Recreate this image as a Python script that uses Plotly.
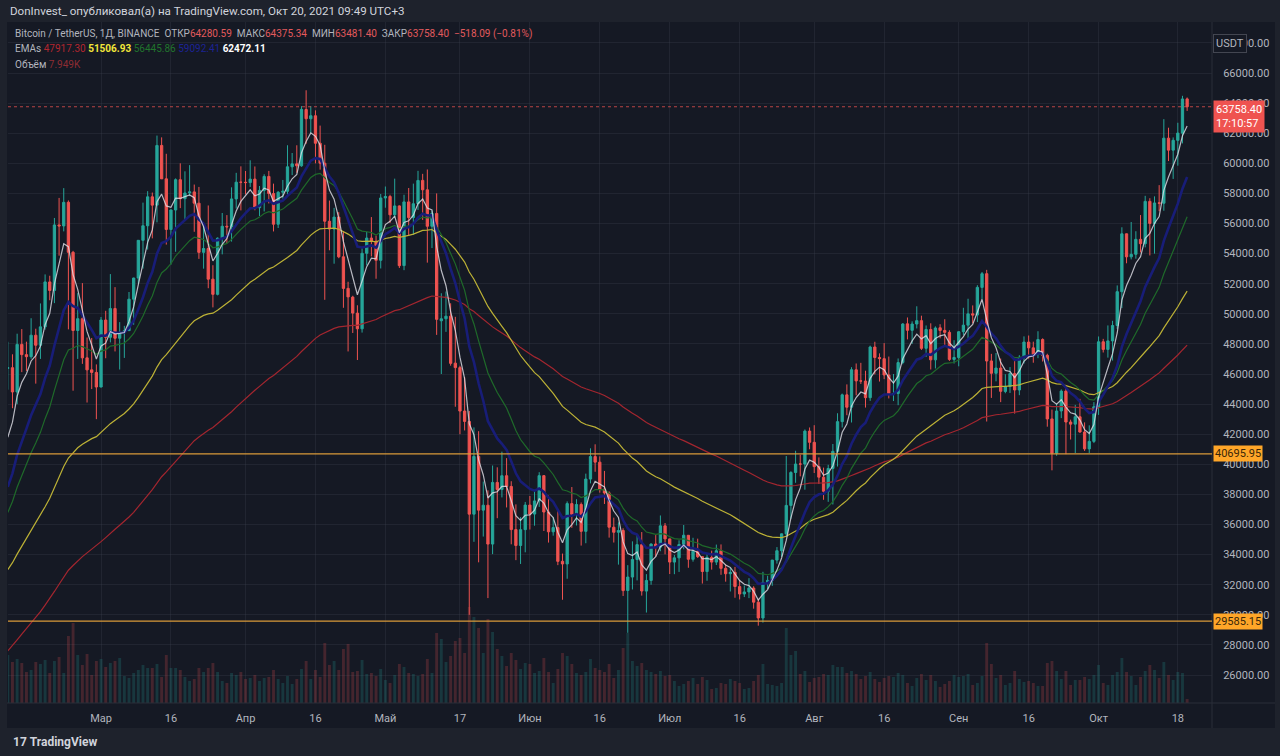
import plotly.graph_objects as go
import pandas as pd

# BTC/USDT daily, Binance, 9 Feb - 20 Oct 2021
dates = pd.date_range("2021-02-09", "2021-10-20", freq="D")

opens = [
    # Feb
    46374, 46420, 44807, 47969, 47287, 47153, 48577, 47911, 49133, 52119, 51552, 55906, 55841, 57412, 54087, 48891, 49676, 47073, 46276, 46104,
    # Mar
    45135, 49587, 48440, 50349, 48374, 48751, 48882, 50971, 52375, 54884, 55851, 57773, 57221, 61188, 58968, 55605, 56900, 58912, 57648, 58030,
    58102, 57351, 54083, 54340, 52303, 51293, 55025, 55817, 55777, 57635, 58746,
    # Apr
    58740, 58720, 58950, 57051, 58202, 59129, 57991, 55953, 58077, 58142, 59769, 59964, 59835, 63576, 62959, 63159, 61334, 60006, 56150, 55633,
    56425, 53787, 51690, 51110, 50047, 49004, 54021, 55034, 54824, 53555,
    # May
    57697, 57797, 56578, 57169, 53205, 57436, 56393, 57315, 58866, 58240, 55816, 56670, 49537, 49671, 49844, 46723, 46424, 43538, 42849, 36690,
    40526, 36955, 37281, 34700, 38796, 38324, 39241, 38529, 35661, 34606, 35659,
    # Jun
    37293, 36694, 37569, 39246, 36829, 35516, 35797, 33557, 33380, 37389, 36677, 37331, 35546, 39021, 40516, 40143, 38349, 38099, 35820, 35483,
    35600, 31614, 32509, 33676, 34663, 31577, 32283, 34702, 34495, 35911,
    # Jul
    35045, 33502, 33786, 34668, 35284, 33690, 34221, 33863, 32875, 33815, 33502, 34259, 33086, 32729, 32820, 31874, 31384, 31521, 31778, 30839,
    29790, 32145, 32287, 33635, 34262, 35381, 37270, 39456, 40020, 40016, 42206,
    # Aug
    41461, 39850, 39146, 38207, 39723, 40862, 42836, 44614, 43794, 46280, 45543, 45533, 44429, 47793, 47097, 47019, 45937, 44687, 44709, 46769,
    49334, 48903, 49322, 49546, 47707, 48960, 46942, 49070, 48895, 48767, 46970,
    # Sep
    47100, 48810, 49247, 50000, 49917, 51756, 52666, 46868, 46048, 46395, 44842, 45173, 46025, 44940, 47103, 48121, 47737, 47300, 48292, 47241,
    43016, 40734, 43546, 44866, 42810, 42670, 43160, 42147, 41025, 41524,
    # Oct
    43820, 48141, 47634, 48200, 49225, 51471, 55315, 53785, 53955, 54949, 54659, 57471, 56005, 57372, 57347, 61673, 60875, 61528, 62005, 64280.59,
]

highs = [
    48142, 47310, 48678, 48985, 48150, 49707, 49010, 50689, 52618, 52530, 56368, 57700, 58352, 57534, 54183, 51374, 52041, 48424, 48395, 46638,
    49790, 50200, 52640, 51773, 49448, 49200, 51450, 52402, 54895, 57387, 58150, 58058, 61844, 61724, 60633, 56938, 58999, 60000, 59468, 59880,
    58589, 58430, 55830, 57200, 53229, 55073, 56700, 56559, 58405, 59368, 59800,
    59490, 60200, 59791, 58492, 59272, 59495, 58650, 58153, 58894, 61200, 60685, 61199, 63800, 64854, 63800, 63520, 62506, 61230, 57526, 57040,
    56757, 55500, 52130, 51200, 50567, 54356, 55460, 56428, 55195, 57963,
    58458, 57911, 58981, 57200, 57911, 58360, 58650, 59500, 59300, 59592, 56862, 58000, 51367, 51483, 50700, 49800, 46545, 45800, 43546, 42451,
    42200, 38855, 38270, 39921, 39800, 40841, 40411, 38877, 37338, 36488, 37499,
    37895, 38225, 39476, 39290, 37925, 36480, 36900, 34068, 37534, 38491, 37680, 37463, 39380, 41064, 41330, 40527, 39560, 38200, 36457, 36137,
    35750, 33298, 34881, 35298, 35500, 32700, 34749, 35297, 36600, 36100,
    35057, 33977, 34951, 35967, 35293, 35118, 35059, 33909, 34100, 34262, 34666, 34678, 33340, 33114, 33185, 32249, 31949, 32435, 31899, 31063,
    32858, 32591, 33650, 34500, 35398, 40550, 39542, 40900, 40640, 42316, 42448,
    42599, 40459, 39780, 39969, 41350, 43392, 44700, 45310, 46454, 46700, 46743, 46218, 47886, 48144, 47372, 48053, 47160, 46000, 47033, 49382,
    49757, 49500, 50500, 49875, 49226, 49370, 49165, 49309, 49640, 48908, 48246,
    48843, 50400, 51000, 50558, 51900, 52780, 52920, 47340, 47399, 47033, 45987, 46460, 46880, 47250, 48500, 48557, 48150, 48843, 48372, 47347,
    43639, 44000, 44978, 45200, 42966, 43950, 44350, 42787, 42590, 44132,
    48495, 48336, 49228, 49536, 51886, 55750, 55332, 56100, 55489, 56561, 57839, 57680, 57804, 58550, 62933, 62366, 61720, 62695, 64486, 64375.34,
]

lows = [
    44961, 43727, 43994, 46125, 46202, 47014, 45360, 47003, 48947, 50901, 50710, 53863, 55477, 48967, 44892, 47004, 46674, 44106, 45000, 43000,
    45115, 47047, 48100, 47500, 46300, 47070, 48882, 49274, 52000, 53005, 54269, 55013, 56078, 59020, 54600, 53271, 54123, 57023, 56270, 57820,
    55450, 53650, 53000, 51700, 50427, 51225, 53950, 54691, 54800, 57000, 56873,
    57935, 58428, 56880, 56500, 56800, 57333, 55473, 55700, 57654, 57902, 59216, 59369, 59770, 61301, 62020, 60000, 59580, 50931, 54221, 53329,
    53695, 50400, 47500, 48726, 46930, 48753, 53222, 53813, 52330, 53013,
    57050, 56035, 56435, 53046, 52900, 55200, 55241, 56900, 56235, 53400, 54370, 48600, 46000, 48800, 46555, 43825, 42001, 42250, 30000, 34850,
    33488, 35200, 31111, 34031, 36420, 37800, 37134, 34685, 33632, 33379, 34153,
    35667, 35920, 37170, 35567, 34800, 35258, 33300, 31000, 32396, 35782, 35936, 34600, 34757, 38733, 39506, 38116, 37365, 35129, 34803, 33336,
    31251, 28805, 31683, 32286, 31275, 30151, 32000, 33862, 34225, 34017,
    32711, 32699, 32849, 34357, 33125, 33532, 33777, 32077, 32261, 33004, 33306, 32658, 32202, 31550, 31133, 31020, 31179, 31108, 30407, 29278,
    29482, 31708, 31925, 33401, 33852, 35205, 36384, 38772, 39200, 38313, 41000,
    39422, 38690, 37642, 37508, 37332, 39853, 42446, 43261, 42779, 44581, 45341, 43770, 44217, 45971, 45500, 45660, 44376, 44203, 43927, 46644,
    48300, 48000, 49029, 47600, 47137, 46300, 46370, 48370, 47801, 46870, 46700,
    46512, 48584, 48316, 49370, 49450, 50969, 42843, 44412, 45513, 44132, 44722, 44742, 43370, 44594, 46700, 47021, 46750, 47050, 46829, 42500,
    39600, 40565, 43069, 40675, 41646, 40750, 42098, 40888, 40753, 41410,
    43283, 47430, 47088, 46891, 49000, 50382, 53357, 53617, 53661, 54080, 54415, 53879, 54000, 56818, 56850, 60150, 58964, 59844, 61322, 63481.40,
]

closes = [
    46420, 44807, 47969, 47287, 47153, 48577, 47911, 49133, 52119, 51552, 55906, 55841, 57408, 54087, 48891, 49676, 47073, 46276, 46106, 45135,
    49587, 48440, 50349, 48374, 48751, 48882, 50971, 52375, 54884, 55851, 57773, 57221, 61188, 58968, 55605, 56900, 58912, 57648, 58030, 58102,
    57351, 54083, 54340, 52303, 51293, 55025, 55817, 55777, 57635, 58746, 58740,
    58720, 58950, 57051, 58202, 59129, 57991, 55953, 58077, 58142, 59769, 59964, 59835, 63588, 62959, 63159, 61334, 60006, 56150, 55633, 56425,
    53787, 51690, 51125, 50047, 49004, 54021, 55034, 54824, 53555, 57697,
    57797, 56578, 57169, 53200, 57436, 56393, 57314, 58862, 58240, 55816, 56670, 49631, 49670, 49841, 46708, 46426, 43538, 42850, 36690, 40526,
    36955, 37281, 34700, 38796, 38324, 39241, 38529, 35663, 34606, 35658, 37293,
    36693, 37568, 39246, 36829, 35514, 35797, 33552, 33380, 37388, 36675, 37331, 35546, 39020, 40516, 40144, 38349, 38092, 35819, 35483, 35600,
    31608, 32509, 33678, 34663, 31584, 32283, 34700, 34494, 35911, 35045,
    33504, 33786, 34669, 35287, 33690, 34220, 33863, 32877, 33815, 33502, 34258, 33086, 32729, 32820, 31880, 31383, 31520, 31778, 30839, 29790,
    32144, 32287, 33634, 34258, 35381, 37269, 39457, 40019, 40016, 42206, 41461,
    39845, 39147, 38207, 39723, 40862, 42836, 44614, 43792, 46285, 45543, 45533, 44428, 47793, 47096, 47019, 45936, 44695, 44705, 46760, 49322,
    48905, 49321, 49546, 47706, 48960, 46942, 49058, 48897, 48767, 46970, 47100,
    48810, 49246, 49999, 49915, 51756, 52663, 46863, 46048, 46395, 44850, 45173, 46026, 44940, 47111, 48121, 47737, 47299, 48292, 47241, 43015,
    40734, 43543, 44865, 42810, 42670, 43160, 42147, 41026, 41524, 43824,
    48141, 47634, 48200, 49224, 51471, 55315, 53785, 53951, 54949, 54659, 57471, 56005, 57367, 57347, 61672, 60875, 61528, 62009, 64276.49, 63758.40,
]

# volume, thousand BTC
volumes = [
    96, 82, 88, 80, 62, 66, 82, 78, 86, 60, 84, 92, 60, 134, 160, 96, 76, 98, 56, 84,
    88, 72, 80, 84, 90, 54, 50, 60, 66, 76, 70, 70, 78, 52, 96, 70, 70, 66, 52, 44, 48, 70, 62, 70, 80, 62, 44, 40, 60, 56, 62,
    48, 50, 56, 44, 50, 52, 66, 48, 40, 54, 38, 48, 68, 84, 48, 66, 52, 120, 76, 84, 66, 108, 118, 62, 64, 86, 58, 60, 54, 68,
    46, 40, 56, 78, 72, 60, 58, 54, 58, 88, 60, 140, 128, 82, 94, 124, 130, 100, 192, 172, 150, 100, 168, 142, 108, 94, 74, 100, 86, 68, 80,
    78, 60, 64, 90, 62, 40, 68, 100, 94, 78, 60, 56, 62, 88, 70, 66, 62, 78, 50, 66, 110, 140, 84, 74, 80, 66, 62, 58, 64, 54,
    56, 44, 34, 38, 44, 50, 38, 52, 46, 28, 30, 40, 38, 48, 44, 40, 28, 30, 44, 56, 78, 38, 36, 34, 40, 150, 96, 104, 58, 64, 42,
    50, 52, 58, 56, 76, 72, 72, 60, 64, 58, 48, 54, 62, 48, 42, 50, 54, 52, 60, 56, 40, 34, 50, 58, 46, 56, 44, 32, 38, 44, 56,
    52, 54, 58, 36, 40, 54, 120, 78, 50, 56, 36, 40, 64, 48, 42, 44, 40, 34, 34, 80, 84, 64, 48, 64, 36, 46, 46, 52, 48, 56,
    76, 40, 36, 56, 62, 90, 62, 54, 36, 52, 64, 76, 66, 50, 82, 56, 46, 62, 60, 7.949,
]

# EMA ribbon: lengths and the value each line starts at on the left edge
ema_lengths = [100, 50, 21, 13, 5]
ema_start = [27600, 33000, 36800, 38500, 41800]
ema_colors = ["#a3262f", "#bdb236", "#1f6a2a", "#181d78", "rgba(225,225,232,0.8)"]
ema_widths = [1.2, 1.2, 1.2, 2.6, 1.2]

hlevels = [40695.95, 29585.15]
last_price = 63758.40

tick_dates = ["2021-03-01", "2021-03-16", "2021-04-01", "2021-04-16", "2021-05-01", "2021-05-17",
              "2021-06-01", "2021-06-16", "2021-07-01", "2021-07-16", "2021-08-01", "2021-08-16",
              "2021-09-01", "2021-09-16", "2021-10-01", "2021-10-18"]
tick_text = ["Мар", "16", "Апр", "16", "Май", "17", "Июн", "16", "Июл", "16", "Авг", "16", "Сен", "16", "Окт", "18"]
price_ticks = list(range(26000, 68001, 2000))

UP = "#26a69a"
DOWN = "#ef5350"
PANE = "#151924"
OUTER = "#1e222c"
GRID = "rgba(60,64,78,0.32)"
TXT = "#b2b5be"
FONT = "Roboto"

W, H = 1280, 756


def px_x(p):
    return p / W


def px_y(p):
    return (H - p) / H


def ema(values, n, start):
    k = 2 / (n + 1)
    out = [start]
    for v in values[1:]:
        out.append(out[-1] + k * (v - out[-1]))
    return out


fig = go.Figure()

vol_colors = ["rgba(38,166,154,0.22)" if c >= o else "rgba(239,83,80,0.22)" for o, c in zip(opens, closes)]
fig.add_trace(go.Bar(x=dates, y=volumes, marker_color=vol_colors, marker_line_width=0,
                     width=0.62 * 86400000, yaxis="y", hoverinfo="skip"))

fig.add_trace(go.Candlestick(x=dates, open=opens, high=highs, low=lows, close=closes,
                             increasing=dict(line=dict(color=UP, width=1), fillcolor=UP),
                             decreasing=dict(line=dict(color=DOWN, width=1), fillcolor=DOWN),
                             whiskerwidth=0, yaxis="y2"))

for n, s, col, w in zip(ema_lengths, ema_start, ema_colors, ema_widths):
    fig.add_trace(go.Scatter(x=dates, y=ema(closes, n, s), mode="lines",
                             line=dict(color=col, width=w), yaxis="y2", hoverinfo="skip"))

shapes = [
    dict(type="rect", xref="paper", yref="paper", x0=px_x(7), x1=px_x(1275), y0=px_y(728), y1=px_y(22),
         fillcolor=PANE, line=dict(width=0), layer="below"),
    dict(type="line", xref="paper", yref="paper", x0=px_x(1212), x1=px_x(1212), y0=px_y(728), y1=px_y(22),
         line=dict(color="#2a2e39", width=1)),
    dict(type="line", xref="paper", yref="paper", x0=px_x(7), x1=px_x(1275), y0=px_y(703), y1=px_y(703),
         line=dict(color="#2a2e39", width=1)),
    dict(type="line", xref="x domain", yref="y2", x0=0, x1=1, y0=last_price, y1=last_price,
         line=dict(color="rgba(239,83,80,0.75)", width=1, dash="dot")),
]
for lv in hlevels:
    shapes.append(dict(type="line", xref="x domain", yref="y2", x0=0, x1=1, y0=lv, y1=lv,
                       line=dict(color="#d99a38", width=1.3)))

red = "#e25a5d"
head2 = (f"<span style='color:{TXT}'>Bitcoin / TetherUS, 1Д, BINANCE&nbsp; ОТКР</span><span style='color:{red}'>64280.59</span>"
         f"<span style='color:{TXT}'>&nbsp; МАКС</span><span style='color:{red}'>64375.34</span>"
         f"<span style='color:{TXT}'>&nbsp; МИН</span><span style='color:{red}'>63481.40</span>"
         f"<span style='color:{TXT}'>&nbsp; ЗАКР</span><span style='color:{red}'>63758.40&nbsp; −518.09 (−0.81%)</span>")
head3 = (f"<span style='color:{TXT}'>EMAs </span><span style='color:#b3262f'>47917.30</span> "
         f"<span style='color:#f2e63a'><b>51506.93</b></span> <span style='color:#21742d'>56445.86</span> "
         f"<span style='color:#1c2394'>59092.41</span> <span style='color:#ffffff'><b>62472.11</b></span>")
head4 = f"<span style='color:{TXT}'>Объём </span><span style='color:#8e2c33'>7.949K</span>"

annotations = [
    dict(text="DonInvest_ опубликовал(а) на TradingView.com, Окт 20, 2021 09:49 UTC+3", x=px_x(8), y=px_y(11),
         font=dict(color="#d1d4dc", size=11.6)),
    dict(text=head2, x=px_x(13), y=px_y(34), font=dict(size=10)),
    dict(text=head3, x=px_x(13), y=px_y(49), font=dict(size=10)),
    dict(text=head4, x=px_x(13), y=px_y(64), font=dict(size=10)),
    dict(text="<b>17</b> <b>TradingView</b>", x=px_x(11), y=px_y(742), font=dict(color="#d1d4dc", size=12)),
]
for a in annotations:
    a.update(xref="paper", yref="paper", xanchor="left", yanchor="middle", showarrow=False)
    a["font"]["family"] = FONT

annotations += [
    dict(text="USDT", xref="paper", yref="paper", x=px_x(1247), y=px_y(34), showarrow=False,
         font=dict(family=FONT, color=TXT, size=11), bgcolor=PANE, bordercolor="#434651", borderwidth=1, borderpad=2),
    dict(text="63758.40<br>17:10:57", xref="paper", yref="y2", x=px_x(1213), y=last_price, yshift=7,
         xanchor="left", yanchor="top", showarrow=False, align="left",
         font=dict(family=FONT, color="#ffffff", size=11), bgcolor="#ef5350", borderpad=2),
]
for lv in hlevels:
    annotations.append(dict(text=f"{lv:.2f}", xref="paper", yref="y2", x=px_x(1213), y=lv,
                            xanchor="left", yanchor="middle", showarrow=False,
                            font=dict(family=FONT, color="#3a2608", size=11), bgcolor="#ffa628", borderpad=1))

fig.update_layout(
    width=W, height=H, margin=dict(l=0, r=0, t=0, b=0),
    paper_bgcolor=OUTER, plot_bgcolor="rgba(0,0,0,0)",
    showlegend=False, hovermode=False,
    font=dict(family=FONT, color=TXT, size=11),
    xaxis=dict(type="date", domain=[px_x(8), px_x(1212)],
               range=["2021-02-09 01:00", "2021-10-25 08:00"],
               tickvals=tick_dates, ticktext=tick_text, tickfont=dict(color=TXT, size=11),
               ticks="outside", ticklen=5, tickcolor="rgba(0,0,0,0)",
               showgrid=True, gridcolor=GRID, zeroline=False, showline=False,
               rangeslider=dict(visible=False), anchor="y"),
    yaxis=dict(domain=[px_y(703), px_y(22)], range=[0, 1362], visible=False, showgrid=False),
    yaxis2=dict(overlaying="y", side="right", anchor="x", range=[24140, 69390],
                tickvals=price_ticks, ticktext=[f"{v}.00" for v in price_ticks],
                tickfont=dict(color=TXT, size=11), ticks="outside", ticklen=8, tickcolor="rgba(0,0,0,0)",
                showgrid=True, gridcolor=GRID, zeroline=False, showline=False),
    shapes=shapes, annotations=annotations,
)

fig.write_html("out.html", config={"displayModeBar": False},
               post_script="document.body.style.margin='0px';")
